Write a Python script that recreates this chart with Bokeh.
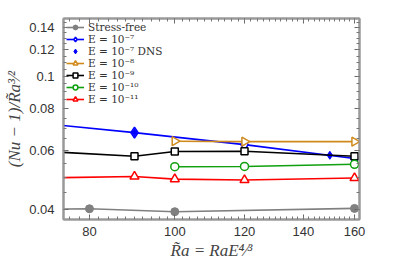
import math
from bokeh.plotting import figure
from bokeh.models import (FixedTicker, LogAxis, NumeralTickFormatter, Legend, LegendItem)
from bokeh.embed import file_html
from bokeh.resources import INLINE

# ---- data ----
sf_ra = [70, 80, 100, 160]
sf_nu = [0.0401, 0.0402, 0.0394, 0.0403]

e7_ra = [70, 90, 120, 160]
e7_nu = [0.0725, 0.0679, 0.0625, 0.0568]

dns_ra = [90, 150]
dns_nu = [0.0679, 0.0581]

e8_ra = [100, 120, 160]
e8_nu = [0.0640, 0.0638, 0.0638]

e9_ra = [70, 90, 100, 120, 160]
e9_nu = [0.0598, 0.0577, 0.0596, 0.0597, 0.0577]

e10_ra = [100, 120, 160]
e10_nu = [0.0537, 0.0538, 0.0546]

e11_ra = [70, 90, 100, 120, 160]
e11_nu = [0.0497, 0.0502, 0.0493, 0.0490, 0.0497]

x_ticks = [80, 100, 120, 140, 160]
y_ticks = [0.04, 0.06, 0.08, 0.1, 0.12, 0.14]
x_minor = list(range(72, 164, 2))
y_minor = [round(0.035 + 0.005 * i, 3) for i in range(0, 24)]

labels = ["Stress-free", "E = 10\u207b\u2077", "E = 10\u207b\u2077 DNS", "E = 10\u207b\u2078",
          "E = 10\u207b\u2079", "E = 10\u207b\u00b9\u2070", "E = 10\u207b\u00b9\u00b9"]

GRAY = "#808080"
BLUE = "#0000ff"
ORANGE = "#d08a1c"
BLACK = "#000000"
GREEN = "#10a010"
RED = "#ff0000"
AXC = "#999999"

p = figure(x_axis_type="log", y_axis_type="log",
           x_range=(74.75, 162.1), y_range=(0.03734, 0.1489),
           frame_width=296, frame_height=201,
           min_border_left=63, min_border_top=18, min_border_right=20, min_border_bottom=20,
           output_backend="svg", toolbar_location=None)
p.grid.visible = False
p.outline_line_color = AXC
p.outline_line_width = 2
p.background_fill_color = "white"

def style_axis(ax, ticks, minor, show_labels=True):
    ax.ticker = FixedTicker(ticks=ticks, minor_ticks=minor)
    ax.axis_line_color = AXC
    ax.axis_line_width = 2
    ax.major_tick_line_color = "#666666"
    ax.minor_tick_line_color = "#777777"
    ax.major_tick_in = 5
    ax.major_tick_out = 0
    ax.minor_tick_in = 3
    ax.minor_tick_out = 0
    ax.major_label_text_font = "Liberation Sans"
    ax.major_label_text_font_size = "13px"
    ax.major_label_text_color = "#333333"
    if not show_labels:
        ax.major_label_text_font_size = "0px"
        ax.major_label_text_alpha = 0
        ax.major_label_standoff = 0

xa = p.xaxis[0]
ya = p.yaxis[0]
style_axis(xa, x_ticks, x_minor)
style_axis(ya, y_ticks, y_minor)
xa.formatter = NumeralTickFormatter(format="0")
ya.formatter = NumeralTickFormatter(format="0.[00]")
xa.major_label_standoff = 7
ya.major_label_standoff = 9

xa.axis_label = "R\u0303a = RaE\u2074\u2044\u00b3"
ya.axis_label = "(Nu \u2212 1)/R\u0303a\u00b3\u2044\u00b2"
for ax in (xa, ya):
    ax.axis_label_text_font = "Liberation Serif"
    ax.axis_label_text_font_style = "italic"
    ax.axis_label_text_font_size = "17px"
    ax.axis_label_text_color = "#444444"
    ax.axis_label_standoff = 2

top = LogAxis()
right = LogAxis()
style_axis(top, x_ticks, x_minor, show_labels=False)
style_axis(right, y_ticks, y_minor, show_labels=False)
p.add_layout(top, "above")
p.add_layout(right, "right")

lw = 1.6
r_sf_l = p.line(sf_ra, sf_nu, color=GRAY, line_width=lw)
r_sf_m = p.scatter(sf_ra, sf_nu, marker="circle", size=8, fill_color=GRAY, line_color=GRAY)

r_e7_l = p.line(e7_ra, e7_nu, color=BLUE, line_width=lw)
r_e7_m = p.scatter(e7_ra, e7_nu, marker="diamond", size=11, fill_color="white", line_color=BLUE, line_width=1.5)

r_dns = p.scatter(dns_ra, dns_nu, marker="diamond", size=8, fill_color=BLUE, line_color=BLUE)

r_e8_l = p.line(e8_ra, e8_nu, color=ORANGE, line_width=lw)
r_e8_m = p.scatter(e8_ra, e8_nu, marker="triangle", angle=-math.pi / 2, size=9,
                   fill_color="white", line_color=ORANGE, line_width=1.5)

r_e9_l = p.line(e9_ra, e9_nu, color=BLACK, line_width=lw)
r_e9_m = p.scatter(e9_ra, e9_nu, marker="square", size=7, fill_color="white", line_color=BLACK, line_width=1.5)

r_e10_l = p.line(e10_ra, e10_nu, color=GREEN, line_width=lw)
r_e10_m = p.scatter(e10_ra, e10_nu, marker="circle", size=8, fill_color="white", line_color=GREEN, line_width=1.5)

r_e11_l = p.line(e11_ra, e11_nu, color=RED, line_width=lw)
r_e11_m = p.scatter(e11_ra, e11_nu, marker="triangle", size=9, fill_color="white", line_color=RED, line_width=1.5)

legend = Legend(items=[
    LegendItem(label=labels[0], renderers=[r_sf_l, r_sf_m]),
    LegendItem(label=labels[1], renderers=[r_e7_l, r_e7_m]),
    LegendItem(label=labels[2], renderers=[r_dns]),
    LegendItem(label=labels[3], renderers=[r_e8_l, r_e8_m]),
    LegendItem(label=labels[4], renderers=[r_e9_l, r_e9_m]),
    LegendItem(label=labels[5], renderers=[r_e10_l, r_e10_m]),
    LegendItem(label=labels[6], renderers=[r_e11_l, r_e11_m]),
], location="top_left")
legend.label_text_font = "DejaVu Serif"
legend.label_text_font_size = "10.5px"
legend.label_text_color = "#333333"
legend.glyph_width = 18
legend.glyph_height = 12
legend.label_height = 12
legend.spacing = 0
legend.padding = 4
legend.margin = 3
legend.label_standoff = 4
legend.border_line_color = None
legend.background_fill_alpha = 0
p.add_layout(legend)

open("out.html", "w").write(file_html(p, INLINE))
